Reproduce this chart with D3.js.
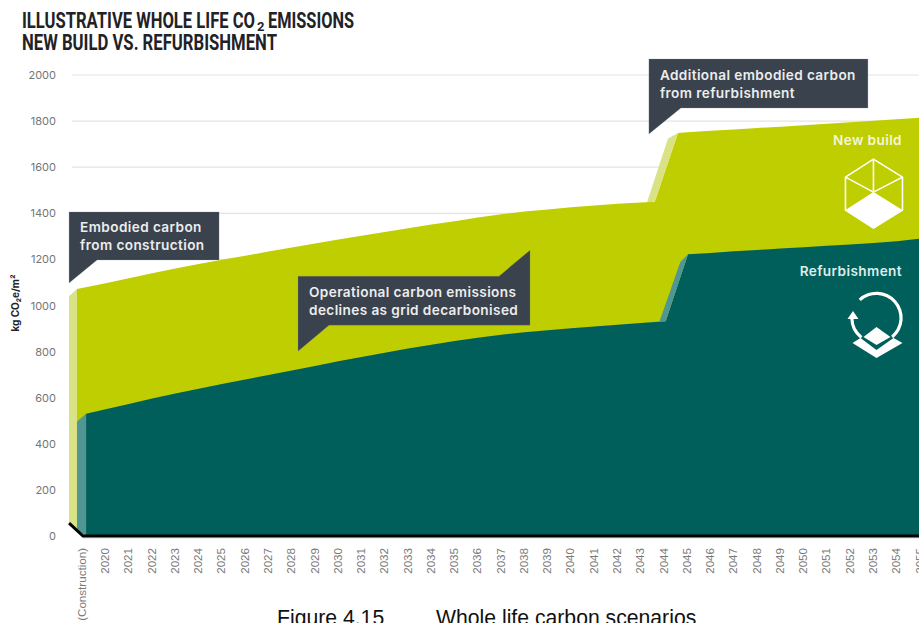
<!DOCTYPE html>
<html><head><meta charset="utf-8">
<script src="https://cdn.jsdelivr.net/npm/d3@7"></script>
<style>
html,body{margin:0;padding:0;background:#fff;overflow:hidden}
svg{display:block}
</style></head><body><div id="c"></div>
<script>
const yearLabels = [2020,2021,2022,2023,2024,2025,2026,2027,2028,2029,2030,2031,2032,2033,2034,2035,2036,2037,2038,2039,2040,2041,2042,2043,2044,2045,2046,2047,2048,2049,2050,2051,2052,2053,2054,2055];
const constructionLabel = "(Construction)";
const constructionYear = 2019;
const yTicks = [0,200,400,600,800,1000,1200,1400,1600,1800,2000];

const newBuildYears = [2018.77,2020,2021,2022,2023,2024,2025,2026,2027,2028,2029,2030,2031,2032,2033,2034,2035,2036,2037,2038,2039,2040,2041,2042,2043,2043.6,2044.6,2045,2046,2047,2048,2049,2050,2051,2052,2053,2054,2055];
const newBuildValues = [1072,1096,1118,1140,1160,1180,1198,1216,1234,1252,1269,1286,1303,1319,1335,1351,1366,1382,1396,1408,1417,1426,1434,1441,1447,1450,1748,1752,1758,1764,1770,1776,1782,1788,1795,1802,1808,1815];
const newBuildBase = [24,0];

const refurbYears = [2019.16,2020,2021,2022,2023,2024,2025,2026,2027,2028,2029,2030,2031,2032,2033,2034,2035,2036,2037,2038,2039,2040,2041,2042,2043,2044.07,2045.03,2046,2047,2048,2049,2050,2051,2052,2053,2054,2055];
const refurbValues = [530,550,573,596,618,639,659,679,698,718,738,758,777,795,813,830,846,860,873,884,893,901,909,916,924,932,1222,1228,1235,1241,1247,1253,1259,1265,1271,1279,1290];

const wedgeNewYears = [2018.43,2018.77];
const wedgeNewTop = [1040,1072];
const wedgeNewBottom = [56,24];
const wedgeRefYears = [2018.77,2019.16];
const wedgeRefTop = [497,530];
const wedgeRefBottom = [24,0];
const jumpNewYears = [2043.27,2043.6,2044.6,2044.17];
const jumpNewLower = [1448,1450,1748,1725];
const jumpRefYears = [2043.8,2044.07,2045.03,2044.7];
const jumpRefLower = [930,932,1222,1189];
const baselineYears = [2018.43,2019.03,2056];
const baselineValues = [56,0,0];

const W=919,H=623;
const svg=d3.select("#c").append("svg").attr("width",W).attr("height",H);
const x=d3.scaleLinear().domain([2020,2055]).range([105.6,920]);
const y=d3.scaleLinear().domain([0,2000]).range([536,75]);
const MAIN='Inter,"Noto Sans",sans-serif';
const AR='"Liberation Sans",Arial,sans-serif';
const NARROW='"Liberation Sans Narrow",Roboto,sans-serif';

// grid
svg.append("g").selectAll("line").data(yTicks.filter(d=>d>0)).join("line")
 .attr("x1",72).attr("x2",W).attr("y1",d=>y(d)).attr("y2",d=>y(d))
 .attr("stroke","#e4e4e6").attr("stroke-width",1.2);

// y axis
const ya=svg.append("g").attr("transform","translate(60,0)")
 .call(d3.axisLeft(y).tickValues(yTicks).tickSize(0).tickPadding(4).tickFormat(d3.format("d")));
ya.select(".domain").remove();
ya.selectAll("text").attr("font-family",MAIN).attr("font-size",11).attr("fill","#757575");

// x axis
const xa=svg.append("g").attr("transform","translate(0,538)")
 .call(d3.axisBottom(x).tickValues([constructionYear].concat(yearLabels)).tickSize(0)
   .tickFormat(d=>d===constructionYear?constructionLabel:String(d)));
xa.select(".domain").attr("stroke","#dcdcdc").attr("stroke-width",1).attr("d","M83,0H919");
xa.selectAll(".tick text").attr("font-family",AR).attr("font-size",11.6).attr("fill","#7a7a7a")
 .attr("text-anchor","end").attr("dy",0).attr("y",0).attr("x",0)
 .attr("transform","rotate(-90) translate(-10,3)");

// areas
function band(xs,top,bottom,fill){
  const rows=xs.map((v,i)=>({x:v,t:top[i],b:typeof bottom==="function"?bottom(i):bottom[i]}));
  svg.append("path").datum(rows).attr("fill",fill)
   .attr("d",d3.area().x(d=>x(d.x)).y0(d=>y(d.b)).y1(d=>y(d.t)));
}
function poly(xs,vs,fill){
  svg.append("path").attr("fill",fill).attr("d",
    d3.line().x(d=>x(d[0])).y(d=>y(d[1]))(xs.map((v,i)=>[v,vs[i]]))+"Z");
}
band(newBuildYears,newBuildValues,i=>i===0?newBuildBase[0]:0,"#bfce00");
band(wedgeNewYears,wedgeNewTop,wedgeNewBottom,"#d9e285");
band(refurbYears,refurbValues,()=>0,"#005f5b");
band(wedgeRefYears,wedgeRefTop,wedgeRefBottom,"#4f9695");
poly(jumpNewYears,jumpNewLower,"#d9e285");
poly(jumpRefYears,jumpRefLower,"#4f9695");

// baseline
svg.append("path").attr("fill","none").attr("stroke","#000").attr("stroke-width",3)
 .attr("d",d3.line().x(d=>x(d)).y((d,i)=>y(baselineValues[i]))(baselineYears));

// labels helper
const tf=(t,xp,yp,o={})=>svg.append("text").attr("x",xp).attr("y",yp).attr("font-family",MAIN)
  .attr("font-weight",600).attr("font-size",13.6).attr("letter-spacing",0.4)
  .attr("fill",o.c||"#eceded").attr("text-anchor",o.a||"start").text(t);

// callouts anchored on data coordinates
function callout(ax,ay,pts,lines,tx,ty){
  const X=x(ax),Y=y(ay);
  svg.append("path").attr("fill","#3a424e").attr("stroke","#8d929a").attr("stroke-opacity",.35).attr("stroke-width",.7)
    .attr("d",d3.line()(pts.map(p=>[X+p[0],Y+p[1]]))+"Z");
  lines.forEach((t,i)=>tf(t,X+tx,Y+ty+i*17.8));
}
callout(2018.43,1098,[[0,0],[0,-71],[150,-71],[150,-23],[28,-23]],["Embodied carbon","from construction"],11,-51);
callout(2028.27,802,[[0,0],[0,-75],[201,-75],[232,-101],[232,-26],[31,-26]],["Operational carbon emissions","declines as grid decarbonised"],11,-54);
callout(2043.35,1744,[[0,0],[0,-75],[219,-75],[219,-26],[32,-26]],["Additional embodied carbon","from refurbishment"],11,-54);

tf("New build",902,145,{a:"end",c:"#f4f6d8"});
tf("Refurbishment",902,276,{a:"end",c:"#dfeceb"});

// title
const titleText=(t,xp,yp,len,size)=>{
  const e=svg.append("text").attr("x",xp).attr("y",yp).attr("font-family",NARROW)
   .attr("font-weight",700).attr("font-size",size).attr("fill","#1f2226").text(t);
  if(len) e.attr("textLength",len).attr("lengthAdjust","spacingAndGlyphs");
};
titleText("ILLUSTRATIVE WHOLE LIFE CO",22,28,233,21.5);
titleText("2",257,31,null,13);
titleText("EMISSIONS",268,28,86,21.5);
titleText("NEW BUILD VS. REFURBISHMENT",22,50,255,21.5);

// y label
svg.append("text").attr("transform","translate(19,303) rotate(-90)").attr("text-anchor","middle")
 .attr("font-family",MAIN).attr("font-weight",700).attr("font-size",10).attr("fill","#1f2226").text("kg CO₂e/m²");

// caption
svg.append("text").attr("x",277).attr("y",625).attr("font-family",AR).attr("font-size",21.2).attr("fill","#111").text("Figure 4.15");
svg.append("text").attr("x",436).attr("y",625).attr("font-family",AR).attr("font-size",21.2).attr("fill","#111").text("Whole life carbon scenarios");

// new-build icon
const ic=svg.append("g").attr("transform",`translate(${x(2053)},${y(1492)})`);
ic.append("path").attr("fill","none").attr("stroke","#fff").attr("stroke-width",1.6).attr("stroke-linejoin","round")
 .attr("d","M0,-33L29,-15V18L0,36L-28,18V-15Z M0,-33V0 M0,0L29,-15 M0,0L-28,-15");
ic.append("path").attr("fill","#fff").attr("d","M0,0L29,18L0,36L-28,18Z");

// refurb icon
const ir=svg.append("g").attr("transform",`translate(${x(2053.13)},${y(946)})`);
const ring=d3.arc().innerRadius(23).outerRadius(26.2);
ir.append("path").attr("fill","#fff").attr("d",ring({startAngle:-0.75,endAngle:2.45}));
ir.append("path").attr("fill","#fff").attr("d",ring({startAngle:3.8,endAngle:4.7}));
ir.append("path").attr("fill","#fff").attr("d","M-23.5,-7L-18,1H-29Z");
ir.append("path").attr("fill","#fff").attr("d","M0,9L14,19L0,27L-13,19Z");
ir.append("path").attr("fill","#fff").attr("d","M-24,25L-16,20L0,32L17,20L26,25L0,40Z");
</script>
</body></html>
